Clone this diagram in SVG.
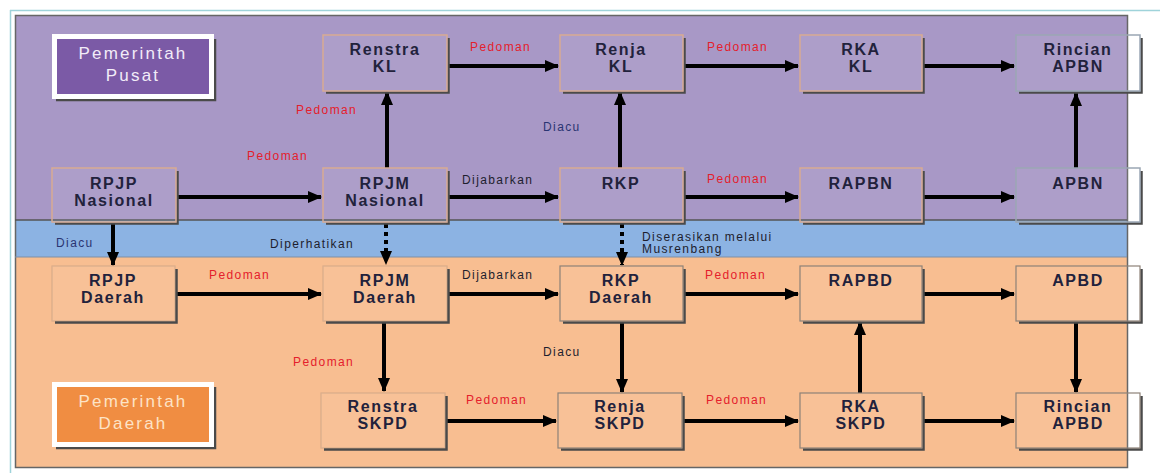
<svg xmlns="http://www.w3.org/2000/svg" width="1160" height="473" viewBox="0 0 1160 473">
<defs>
<marker id="ah" markerUnits="userSpaceOnUse" markerWidth="14" markerHeight="12" refX="13" refY="6" orient="auto">
<path d="M0,0 L14,6 L0,12 z" fill="#000"/>
</marker>
<style>
.nt{font-family:"Liberation Sans",Arial,sans-serif;font-weight:bold;font-size:16px;letter-spacing:1.6px;fill:#22223c;text-anchor:middle}
.lb{font-family:"Liberation Sans",Arial,sans-serif;font-size:12px;letter-spacing:1.4px}
.red{fill:#e4202c}
.blk{fill:#1e1e2e}
.blu{fill:#2a3572}
.ptxt{font-family:"Liberation Sans",Arial,sans-serif;font-size:17px;letter-spacing:2.2px;text-anchor:middle}
.np{fill:#ffffff;fill-opacity:0.06;stroke:#d8ab93;stroke-width:1.5}
.no{fill:#ffffff;fill-opacity:0.06;stroke:#8e8278;stroke-width:1.2}
.sh{fill:none;stroke:#4a4a4a;stroke-width:2.5}
.ar{stroke:#000;stroke-width:4;fill:none;marker-end:url(#ah)}
.dt{stroke:#000;stroke-width:4;fill:none;stroke-dasharray:4 4;marker-end:url(#ah)}
</style>
</defs>
<rect width="1160" height="473" fill="#ffffff"/>
<path d="M10,10.5 H1160 M10.5,10 V473" stroke="#9fd3da" stroke-width="1.5" fill="none"/>
<g id="regions">
<rect x="15" y="15" width="1112" height="205" fill="#a898c6"/>
<rect x="15" y="220" width="1112" height="37" fill="#8cb3e3"/>
<rect x="15" y="257" width="1112" height="210" fill="#f8be91"/>
<rect x="15.5" y="15.5" width="1112" height="452" fill="none" stroke="#666" stroke-width="1.5"/>
<line x1="15" y1="220" x2="1127" y2="220" stroke="#555" stroke-width="1.5"/>
<line x1="15" y1="257" x2="1127" y2="257" stroke="#7f8fa6" stroke-width="1"/>
</g>
<g id="label-pusat">
<path d="M215,39 V100 H56" class="sh"/>
<rect x="54.5" y="36.5" width="157" height="60" fill="#7b5aa6" stroke="#ffffff" stroke-width="5"/>
<text class="ptxt" x="133" y="59" fill="#f2ecf8">Pemerintah</text>
<text class="ptxt" x="133" y="81" fill="#f2ecf8">Pusat</text>
</g>
<g id="label-daerah">
<path d="M215,387 V448 H56" class="sh"/>
<rect x="54.5" y="384.5" width="157" height="60" fill="#f08d42" stroke="#ffffff" stroke-width="5"/>
<text class="ptxt" x="133" y="407" fill="#fde3c6">Pemerintah</text>
<text class="ptxt" x="133" y="429" fill="#fde3c6">Daerah</text>
</g>
<g id="connectors">
<path class="ar" d="M449,66 H558"/>
<path class="ar" d="M685,66 H798"/>
<path class="ar" d="M924,66 H1014"/>
<path class="ar" d="M178,197 H321"/>
<path class="ar" d="M449,197 H558"/>
<path class="ar" d="M685,197 H798"/>
<path class="ar" d="M924,197 H1014"/>
<path class="ar" d="M387,168 V92"/>
<path class="ar" d="M620,168 V92"/>
<path class="ar" d="M1076,168 V93"/>
<path class="ar" d="M113,224 V265"/>
<path class="dt" d="M386,224 V264"/>
<path class="dt" d="M622,224 V265"/>
<path class="ar" d="M177,294 H321"/>
<path class="ar" d="M449,294 H558"/>
<path class="ar" d="M685,294 H798"/>
<path class="ar" d="M924,294 H1014"/>
<path class="ar" d="M384,323 V391"/>
<path class="ar" d="M622,323 V392"/>
<path class="ar" d="M860,393 V322"/>
<path class="ar" d="M1076,323 V392"/>
<path class="ar" d="M447,421 H556"/>
<path class="ar" d="M684,421 H798"/>
<path class="ar" d="M924,421 H1014"/>
<text class="lb red" x="470" y="51">Pedoman</text>
<text class="lb red" x="707" y="51">Pedoman</text>
<text class="lb red" x="296" y="114">Pedoman</text>
<text class="lb red" x="247" y="160">Pedoman</text>
<text class="lb blk" x="462" y="184">Dijabarkan</text>
<text class="lb red" x="707" y="183">Pedoman</text>
<text class="lb blu" x="543" y="131">Diacu</text>
<text class="lb blu" x="56" y="247">Diacu</text>
<text class="lb blk" x="270" y="248">Diperhatikan</text>
<text class="lb blk" x="642" y="241">Diserasikan melalui</text>
<text class="lb blk" x="642" y="253">Musrenbang</text>
<text class="lb red" x="209" y="279">Pedoman</text>
<text class="lb blk" x="462" y="279">Dijabarkan</text>
<text class="lb red" x="705" y="279">Pedoman</text>
<text class="lb red" x="293" y="366">Pedoman</text>
<text class="lb blk" x="543" y="356">Diacu</text>
<text class="lb red" x="466" y="404">Pedoman</text>
<text class="lb red" x="706" y="404">Pedoman</text>
</g>
<g id="renstra-kl">
<path class="sh" d="M448.5,38 V92.5 H326"/>
<rect class="np" x="323" y="35" width="124" height="56"/>
<text class="nt" x="385" y="55">Renstra</text>
<text class="nt" x="385" y="72">KL</text>
</g>
<g id="renja-kl">
<path class="sh" d="M684.5,38 V92.5 H563"/>
<rect class="np" x="560" y="35" width="123" height="56"/>
<text class="nt" x="621" y="55">Renja</text>
<text class="nt" x="621" y="72">KL</text>
</g>
<g id="rka-kl">
<path class="sh" d="M923.5,38 V92.5 H803"/>
<rect class="np" x="800" y="35" width="122" height="56"/>
<text class="nt" x="861" y="55">RKA</text>
<text class="nt" x="861" y="72">KL</text>
</g>
<g id="rincian-apbn">
<path class="sh" d="M1141.5,38 V92.5 H1019"/>
<rect class="np" x="1016" y="35" width="124" height="56" style="stroke:#9aa6b4"/>
<text class="nt" x="1078" y="55">Rincian</text>
<text class="nt" x="1078" y="72">APBN</text>
</g>
<g id="rpjp-nasional">
<path class="sh" d="M177.5,171 V223.5 H55"/>
<rect class="np" x="52" y="168" width="124" height="54"/>
<text class="nt" x="114" y="189">RPJP</text>
<text class="nt" x="114" y="206">Nasional</text>
</g>
<g id="rpjm-nasional">
<path class="sh" d="M448.5,171 V223.5 H326"/>
<rect class="np" x="323" y="168" width="124" height="54"/>
<text class="nt" x="385" y="189">RPJM</text>
<text class="nt" x="385" y="206">Nasional</text>
</g>
<g id="rkp">
<path class="sh" d="M684.5,171 V223.5 H563"/>
<rect class="np" x="560" y="168" width="123" height="54"/>
<text class="nt" x="621" y="189">RKP</text>
</g>
<g id="rapbn">
<path class="sh" d="M923.5,171 V223.5 H803"/>
<rect class="np" x="800" y="168" width="122" height="54"/>
<text class="nt" x="861" y="189">RAPBN</text>
</g>
<g id="apbn">
<path class="sh" d="M1141.5,171 V223.5 H1019"/>
<rect class="np" x="1016" y="168" width="124" height="54" style="stroke:#9aa6b4"/>
<text class="nt" x="1078" y="189">APBN</text>
</g>
<g id="rpjp-daerah">
<path class="sh" d="M176.5,269 V322.5 H55"/>
<rect class="no" x="52" y="266" width="123" height="55" style="stroke-opacity:0.3"/>
<text class="nt" x="113" y="286">RPJP</text>
<text class="nt" x="113" y="303">Daerah</text>
</g>
<g id="rpjm-daerah">
<path class="sh" d="M448.5,269 V322.5 H326"/>
<rect class="no" x="323" y="266" width="124" height="55" style="stroke-opacity:0.3"/>
<text class="nt" x="385" y="286">RPJM</text>
<text class="nt" x="385" y="303">Daerah</text>
</g>
<g id="rkp-daerah">
<path class="sh" d="M684.5,269 V322.5 H563"/>
<rect class="no" x="560" y="266" width="123" height="55"/>
<text class="nt" x="621" y="286">RKP</text>
<text class="nt" x="621" y="303">Daerah</text>
</g>
<g id="rapbd">
<path class="sh" d="M923.5,269 V322.5 H803"/>
<rect class="no" x="800" y="266" width="122" height="55"/>
<text class="nt" x="861" y="286">RAPBD</text>
</g>
<g id="apbd">
<path class="sh" d="M1141.5,269 V322.5 H1019"/>
<rect class="no" x="1016" y="266" width="124" height="55"/>
<text class="nt" x="1078" y="286">APBD</text>
</g>
<g id="renstra-skpd">
<path class="sh" d="M446.5,396 V449.5 H324"/>
<rect class="no" x="321" y="393" width="124" height="55" style="stroke-opacity:0.3"/>
<text class="nt" x="383" y="412">Renstra</text>
<text class="nt" x="383" y="429">SKPD</text>
</g>
<g id="renja-skpd">
<path class="sh" d="M683.5,396 V449.5 H561"/>
<rect class="no" x="558" y="393" width="124" height="55"/>
<text class="nt" x="620" y="412">Renja</text>
<text class="nt" x="620" y="429">SKPD</text>
</g>
<g id="rka-skpd">
<path class="sh" d="M923.5,396 V449.5 H803"/>
<rect class="no" x="800" y="393" width="122" height="55"/>
<text class="nt" x="861" y="412">RKA</text>
<text class="nt" x="861" y="429">SKPD</text>
</g>
<g id="rincian-apbd">
<path class="sh" d="M1141.5,396 V449.5 H1019"/>
<rect class="no" x="1016" y="393" width="124" height="55"/>
<text class="nt" x="1078" y="412">Rincian</text>
<text class="nt" x="1078" y="429">APBD</text>
</g>
</svg>
